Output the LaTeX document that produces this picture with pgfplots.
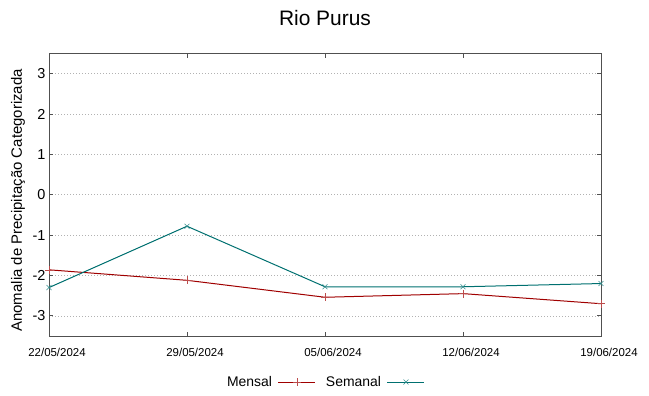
\documentclass[border=0pt]{standalone}
\usepackage{fontspec}
\setmainfont{Liberation Sans}
\usepackage{pgfplots}
\pgfplotsset{compat=1.18}
\definecolor{mensal}{RGB}{160,0,0}
\definecolor{semanal}{RGB}{0,112,112}
\definecolor{axgray}{RGB}{80,80,80}
\begin{document}
\begin{tikzpicture}
\begin{axis}[
  at={(0,0)}, anchor=south west,
  scale only axis, width=552bp, height=282.5bp,
  xmin=0, xmax=4, ymin=-3.5, ymax=3.5,
  xtick={0,1,2,3,4},
  xticklabels={22/05/2024,29/05/2024,05/06/2024,12/06/2024,19/06/2024},
  ytick={-3,-2,-1,0,1,2,3},
  yticklabels={-3,-2,-1,0,1,2,3},
  tick align=inside,
  major tick length=4bp,
  tick style={axgray, line width=0.8bp},
  axis line style={axgray, line width=1bp},
  ymajorgrids,
  major grid style={dash pattern=on 1bp off 2bp, gray!60, line width=0.6bp},
  xticklabel style={font=\fontsize{11.5}{13}\selectfont, xshift=8bp, yshift=-9bp},
  yticklabel style={font=\fontsize{14.5}{16}\selectfont},
  title={Rio Purus},
  title style={font=\fontsize{21}{24}\selectfont, at={(axis description cs:0.5,1)}, anchor=center, yshift=30bp},
  ylabel={Anomalia de Precipitação Categorizada},
  ylabel style={font=\fontsize{15}{17}\selectfont, at={(axis description cs:-0.056,0.48)}, anchor=center},
  legend columns=2,
  legend plot pos=right,
  legend style={draw=none, fill=none, at={(axis description cs:0.5,-0.163)}, anchor=center,
    font=\fontsize{14}{16}\selectfont,
    /tikz/every odd column/.append style={column sep=4bp},
    /tikz/every even column/.append style={column sep=8bp}},
  legend image code/.code={\draw[mark repeat=2,mark phase=2] plot coordinates {(0bp,0bp) (18.5bp,0bp) (37bp,0bp)};},
  clip=true,
]
\addplot[mensal, line width=1bp, mark=+, mark size=4bp, mark options={line width=0.6bp, mensal!70}]
  coordinates {(0,-1.86) (1,-2.12) (2,-2.54) (3,-2.45) (4,-2.70)};
\addlegendentry{Mensal}
\addplot[semanal, line width=1bp, mark=x, mark size=3.5bp, mark options={line width=0.6bp, semanal!80}]
  coordinates {(0,-2.30) (1,-0.78) (2,-2.28) (3,-2.28) (4,-2.20)};
\addlegendentry{Semanal}
\end{axis}
\path[use as bounding box] (-49bp,-60bp) rectangle (600bp,336bp);
\end{tikzpicture}
\end{document}
